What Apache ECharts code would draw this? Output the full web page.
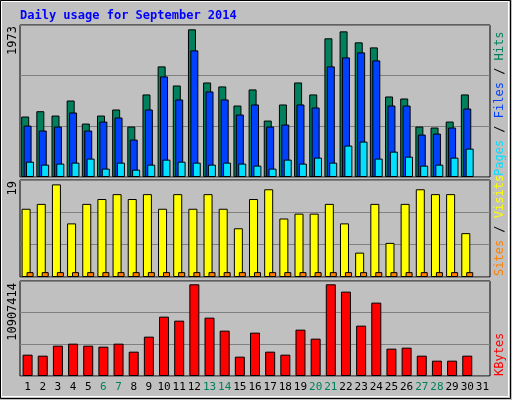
<!DOCTYPE html>
<html><head><meta charset="utf-8">
<script src="https://cdn.jsdelivr.net/npm/echarts@6/dist/echarts.min.js"></script>
<style>html,body{margin:0;padding:0;background:#c0c0c0}#c{width:512px;height:400px}</style>
</head><body><div id="c"></div>
<script>
const days = ['1','2','3','4','5','6','7','8','9','10','11','12','13','14','15','16','17','18','19','20','21','22','23','24','25','26','27','28','29','30','31'];
const weekend = ['6','7','13','14','20','21','27','28'];
const hits  = [808,879,821,1022,714,821,902,674,1103,1478,1223,1973,1263,1210,955,1170,754,969,1263,1103,1853,1946,1799,1732,1076,1049,674,661,741,1103];
const files = [687,621,674,862,621,741,795,500,902,1344,1036,1692,1143,1036,835,969,674,701,969,929,1478,1598,1665,1558,955,955,567,580,661,915];
const pages = [205,165,179,192,246,112,192,98,165,232,205,192,165,192,179,152,112,232,179,259,192,420,473,246,339,272,152,165,259,379];
const visits= [14,15,19,11,15,16,17,16,17,14,17,14,17,14,10,16,18,12,13,13,15,11,5,15,7,15,18,17,17,9];
const sites = [1,1,1,1,1,1,1,1,1,1,1,1,1,1,1,1,1,1,1,1,1,1,1,1,1,1,1,1,1,1];
const kbytes= [2538000,2419000,3609000,3847000,3609000,3490000,3847000,2895000,4680000,7060000,6584000,10907414,6941000,5394000,2300000,5156000,2895000,2538000,5513000,4442000,10907000,10035000,5989000,8726000,3252000,3371000,2419000,1824000,1824000,2419000];
const maxLabels = ['1973','19','10907414'];

const F = 'DejaVu Sans Mono';
const grids = [
  {left:20,right:22,top:25,height:152},
  {left:20,right:22,top:180,height:97},
  {left:20,right:22,top:281,height:95}
].map(g=>Object.assign(g,{show:true,backgroundColor:'#c0c0c0',borderColor:'#000',borderWidth:1}));
const maxes=[2031,19.9,11300000];
const xAxes = [0,1,2].map(i=>({type:'category',gridIndex:i,data:days,
  axisLine:{show:false},axisTick:{show:false},
  axisLabel:{show:i===2,interval:0,margin:6,fontFamily:F,fontSize:11,
    formatter:v=>weekend.includes(v)?'{w|'+v+'}':'{n|'+v+'}',
    rich:{w:{color:'#00805c',fontFamily:F,fontSize:11},n:{color:'#000',fontFamily:F,fontSize:11}}}}));
const yAxes = [0,1,2].map(i=>({type:'value',gridIndex:i,min:0,max:maxes[i],interval:maxes[i]/3,
  axisLabel:{show:false},axisLine:{show:false},axisTick:{show:false},
  splitLine:{lineStyle:{color:'#808080',width:1}}}));
const bs={borderColor:'#000',borderWidth:1};
const series=[
  {type:'bar',xAxisIndex:0,yAxisIndex:0,data:hits,barWidth:8,barGap:'-70%',itemStyle:Object.assign({color:'#00805c'},bs)},
  {type:'bar',xAxisIndex:0,yAxisIndex:0,data:files,barWidth:8,barGap:'-70%',itemStyle:Object.assign({color:'#0040ff'},bs)},
  {type:'bar',xAxisIndex:0,yAxisIndex:0,data:pages,barWidth:8,barGap:'-70%',itemStyle:Object.assign({color:'#00e0ff'},bs)},
  {type:'bar',xAxisIndex:1,yAxisIndex:1,data:visits,barWidth:9,barGap:'-45%',itemStyle:Object.assign({color:'#ffff00'},bs)},
  {type:'bar',xAxisIndex:1,yAxisIndex:1,data:sites,barWidth:7,barGap:'-45%',itemStyle:Object.assign({color:'#ff8000'},bs)},
  {type:'bar',xAxisIndex:2,yAxisIndex:2,data:kbytes,barWidth:10,itemStyle:Object.assign({color:'#ff0000'},bs)}
];
function vt(x,y,text,color,align){return {type:'text',x:x,y:y,rotation:Math.PI/2,
  style:{text:text,fill:color,font:'12px '+F,align:align||'right',verticalAlign:'middle'}};}
function rt(x,y,parts){return {type:'text',x:x,y:y,rotation:Math.PI/2,
  style:{rich:{a:{fill:parts[0][1],font:'12px '+F},b:{fill:'#000',font:'12px '+F},c:{fill:parts[1][1],font:'12px '+F},d:{fill:parts[2]?parts[2][1]:'#000',font:'12px '+F}},
  text:'{a|'+parts[0][0]+'}{b| / }{c|'+parts[1][0]+'}'+(parts[2]?'{b| / }{d|'+parts[2][0]+'}':''),
  align:'left',verticalAlign:'middle'}};}
const chart=echarts.init(document.getElementById('c'));
chart.setOption({
  backgroundColor:'#c0c0c0',animation:false,
  grid:grids,xAxis:xAxes,yAxis:yAxes,series:series,
  graphic:[
    {type:'rect',shape:{x:0.5,y:0.5,width:510,height:398},style:{fill:'none',stroke:'#000',lineWidth:1}},
    {type:'rect',shape:{x:1.5,y:1.5,width:507,height:395},style:{fill:'none',stroke:'#fff',lineWidth:1}},
    {type:'text',x:20,y:10,style:{text:'Daily usage for September 2014',fill:'#0000ff',font:'bold 12px '+F}},
    vt(13,26,maxLabels[0],'#000','right'),
    vt(13,181,maxLabels[1],'#000','right'),
    vt(13,283,maxLabels[2],'#000','right'),
    rt(500,176,[['Pages','#00e0ff'],['Files','#0040ff'],['Hits','#00805c']]),
    rt(500,276,[['Sites','#ff8000'],['Visits','#ffff00']]),
    vt(500,376,'KBytes','#ff0000','left')
  ]
});
</script></body></html>
